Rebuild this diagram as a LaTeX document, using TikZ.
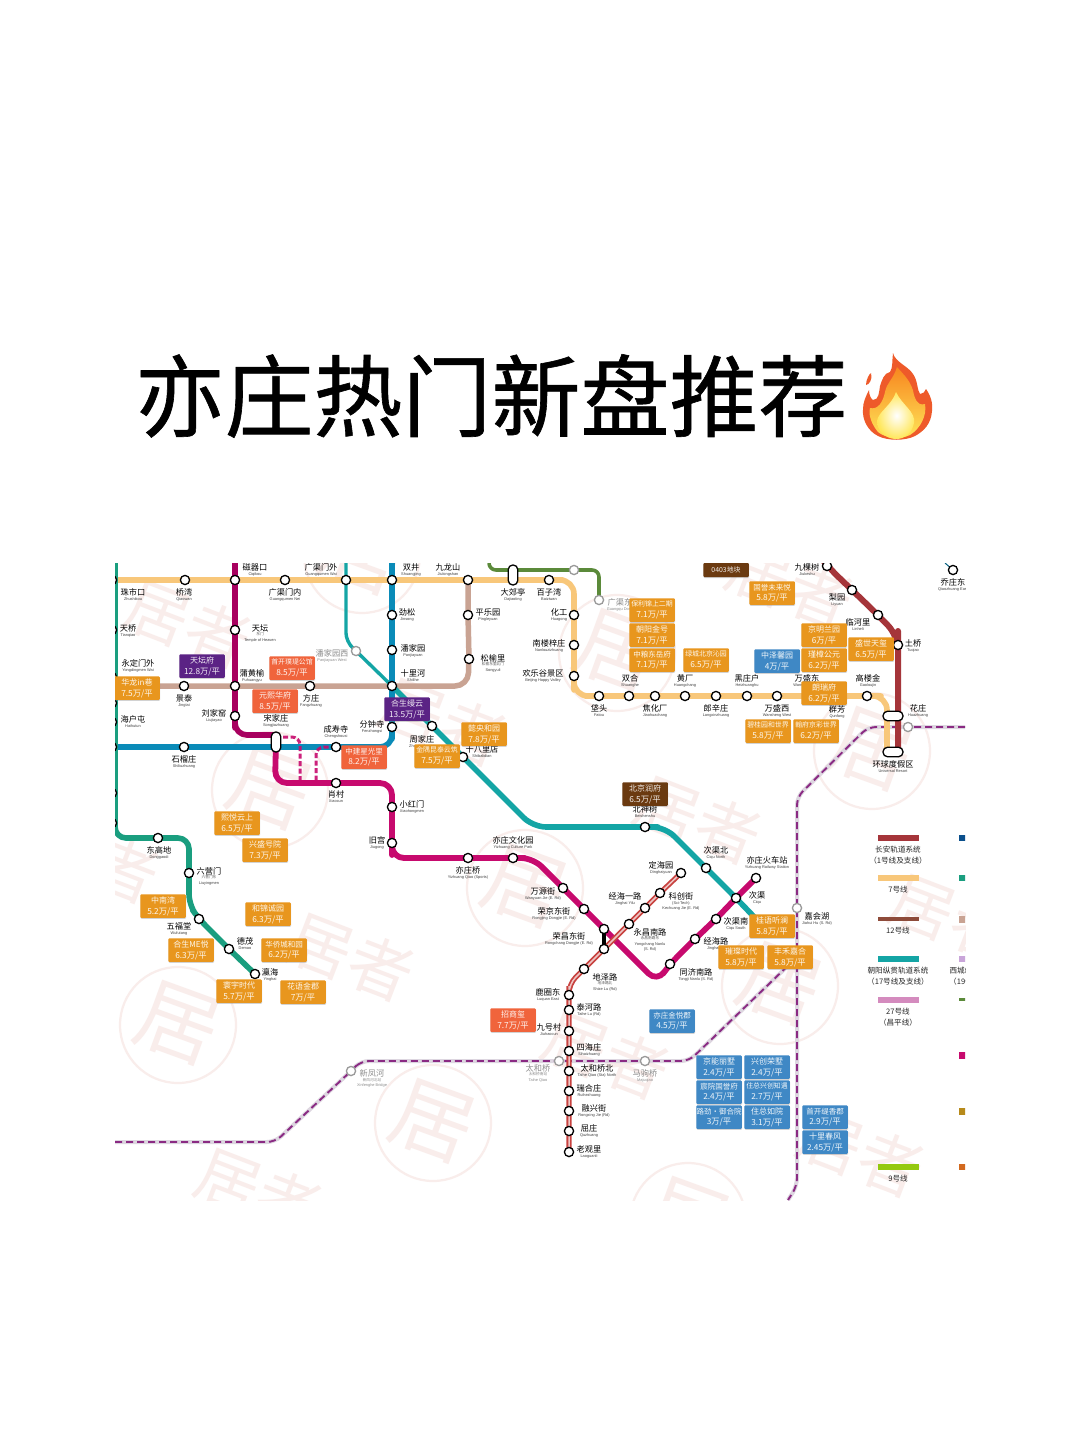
\documentclass[tikz,border=0pt]{standalone}
\usepackage{fontspec}
\usetikzlibrary{shadows}
\setmainfont{Noto Sans CJK SC}
\newfontfamily\latinf{Liberation Sans}
\newfontfamily\ttlfont[FakeBold=0.7]{Noto Sans CJK SC}
\pgfdeclarelayer{wm}
\pgfdeclarelayer{lines}
\pgfsetlayers{wm,lines,main}
\definecolor{cOrange}{HTML}{E8961E}
\definecolor{cRed}{HTML}{F0643C}
\definecolor{cPurple}{HTML}{5B2385}
\definecolor{cBlue}{HTML}{3F88C5}
\definecolor{cBrown}{HTML}{6B3A10}
\definecolor{lSeven}{HTML}{F8C77A}
\definecolor{lOne}{HTML}{A5353A}
\definecolor{lFive}{HTML}{A8005F}
\definecolor{lTen}{HTML}{0A8BB8}
\definecolor{lFourteen}{HTML}{C9A393}
\definecolor{lSeventeen}{HTML}{14A5A5}
\definecolor{lEight}{HTML}{1A9E7F}
\definecolor{lYi}{HTML}{C70A6E}
\definecolor{lTOne}{HTML}{C8423F}
\definecolor{lGreen}{HTML}{5B8A3A}
\definecolor{lDash}{HTML}{8A2A83}
\definecolor{lDashB}{HTML}{DDD6E0}
\definecolor{wmark}{HTML}{F9EDEB}
\definecolor{fRed}{HTML}{EE5A2A}
\definecolor{fOrange}{HTML}{F7861F}
\definecolor{fAmber}{HTML}{F9B233}
\definecolor{fYellow}{HTML}{FFE75A}
\definecolor{lgBrown}{HTML}{8E4B3A}
\definecolor{lgPink}{HTML}{D48BBE}
\definecolor{lgLime}{HTML}{94C90F}
\definecolor{lgNavy}{HTML}{0A4F8C}
\definecolor{lgLav}{HTML}{C9A5D9}
\definecolor{lgGold}{HTML}{B78A1A}
\definecolor{lgRust}{HTML}{D2691E}
\tikzset{
  stn/.style={circle,draw=black,line width=1.3,fill=white,inner sep=0,minimum size=9.2},
  gstn/.style={circle,draw=black!40,line width=1.3,fill=white,inner sep=0,minimum size=9.2},
  capV/.style={rectangle,rounded corners=4.5,draw=black,line width=1.3,fill=white,inner sep=0,minimum width=9.5,minimum height=20},
  capH/.style={rectangle,rounded corners=4.5,draw=black,line width=1.3,fill=white,inner sep=0,minimum width=20,minimum height=9.5},
  zh/.style={inner sep=0,text=black,font=\fontsize{8.2}{9}\selectfont},
  en/.style={inner sep=0,text=black!75,font=\latinf\fontsize{3.9}{4.5}\selectfont},
  ens/.style={inner sep=0,text=black!65,font=\fontsize{3.7}{4.5}\selectfont},
  gzh/.style={inner sep=0,text=black!45,font=\fontsize{8.2}{9}\selectfont},
  gen/.style={inner sep=0,text=black!45,font=\latinf\fontsize{3.9}{4.5}\selectfont},
  gens/.style={inner sep=0,text=black!45,font=\fontsize{3.7}{4.5}\selectfont},
  pbox/.style={rectangle,rounded corners=1,fill=#1,text=white!92!#1,align=center,inner sep=0,minimum width=45.5,minimum height=23.5,
     font=\fontsize{8}{10.8}\selectfont,drop shadow={shadow xshift=0.4pt,shadow yshift=-1pt,opacity=0.35}},
  lgt/.style={inner sep=0,text=black!85,font=\fontsize{7.6}{9}\selectfont},
  metro/.style={line width=#1,line join=round,line cap=butt},
  tone/.style={line width=1.8,draw=lTOne,double=white!70!lTOne,double distance=1.5},
  dashl/.style={draw=lDash,line width=1.9,dash pattern=on 7 off 4,preaction={draw=lDashB,line width=4,solid}},
  linkd/.style={draw=lYi,line width=3,dash pattern=on 5 off 2.5,opacity=0.9},
}
\newcount\labc
\newcommand{\lab}[4]{\global\advance\labc by 1
  \node[zh] (z\the\labc) at (#1,#2) {#3};
  \node[en] (e\the\labc) at (#1,#2+7.2) {#4};}
\newcommand{\labz}[3]{\global\advance\labc by 1
  \node[zh] (z\the\labc) at (#1,#2) {#3};}
\newcommand{\glab}[4]{\global\advance\labc by 1
  \node[gzh] (z\the\labc) at (#1,#2) {#3};
  \node[gen] (e\the\labc) at (#1,#2+7.2) {#4};}
\newcommand{\glabz}[3]{\global\advance\labc by 1
  \node[gzh] (z\the\labc) at (#1,#2) {#3};}
\newcommand{\tx}[4][en]{\global\advance\labc by 1
  \node[#1] (x\the\labc) at (#2,#3) {#4};}
\newcommand{\price}[5]{\global\advance\labc by 1
  \node[pbox=#3] (p\the\labc) at (#1,#2) {#4\\{\fontsize{8.3}{10.8}\selectfont #5}};}
\newcommand{\sm}{\fontsize{6.9}{10.8}\selectfont}
\newcommand{\md}{\fontsize{7.5}{10.8}\selectfont}
\newcommand{\st}[3]{\node[stn] (#1) at (#2,#3) {};}
\newcommand{\gs}[3]{\node[gstn] (#1) at (#2,#3) {};}
\newcommand{\stamp}[2]{%
  \draw[wmark,line width=2.2] (#1,#2) circle (58);
  \node[rotate=-20,inner sep=0,text=wmark,font=\fontsize{82}{82}\selectfont] at (#1,#2-2) {居};}
\newcommand{\wmtext}[2]{\node[rotate=-21,inner sep=0,text=wmark,font=\fontsize{64}{64}\selectfont] at (#1,#2) {居者};}
\newcommand{\mapclip}{\clip (115,563) rectangle (965,1200);}
\begin{document}
\begin{tikzpicture}[x=1pt,y=-1pt]
\useasboundingbox (0,0) rectangle (1080,1439);
\begin{pgfonlayer}{wm}
\fill[white] (0,0) rectangle (1080,1439);
\end{pgfonlayer}
% title
\node[inner sep=0,text=black,font=\ttlfont\fontsize{89}{90}\selectfont] (title) at (491.5,396) {亦庄热门新盘推荐};
% flame
\fill[fRed] (893,353) .. controls (895,362) and (908,366) .. (913,374)
  .. controls (918,381) and (917,390) .. (920,394) .. controls (923,394) and (925,392) .. (926,389)
  .. controls (931,396) and (933,404) .. (932,411) .. controls (931,424) and (924,431) .. (915,436)
  .. controls (905,441) and (888,441) .. (878,436) .. controls (868,431) and (862,420) .. (863,409)
  .. controls (863,402) and (866,396) .. (869,390) .. controls (869,395) and (871,399) .. (873,400)
  .. controls (879,400) and (879,392) .. (880,386) .. controls (882,380) and (884,373) .. (890,372)
  .. controls (893,368) and (892,360) .. (893,353) -- cycle;
\fill[fRed] (871,373) .. controls (869,374) and (866,380) .. (866,385) .. controls (869,385) and (873,379) .. (871,373) -- cycle;
\shade[top color=fOrange,bottom color=fYellow] (897,367) .. controls (904,375) and (912,382) .. (914,395)
  .. controls (917,405) and (921,405) .. (925,404) .. controls (927,415) and (921,428) .. (910,435)
  .. controls (900,440) and (885,438) .. (878,432) .. controls (872,425) and (868,415) .. (870,408)
  .. controls (878,410) and (883,402) .. (885,392) .. controls (887,382) and (893,380) .. (897,367) -- cycle;
\shade[inner color=white,outer color=fYellow] (896,392) .. controls (902,405) and (916,412) .. (914,423)
  .. controls (912,433) and (905,439) .. (896,439) .. controls (886,439) and (877,431) .. (877,421)
  .. controls (878,412) and (892,405) .. (896,392) -- cycle;
% station nodes (main layer, clipped)
\begin{scope}
\mapclip
% Line 8 half circles on left edge
\st{lA}{112}{580}\st{lB}{112}{630}\st{lC}{112}{677}\st{lD}{112}{703}\st{lE}{112}{722}\st{lF}{112}{747}\st{lG}{112}{793}\st{lH}{112}{823}
% Line 7
\st{qiaowan}{185}{580}\st{ciqikou}{235}{580}\st{gqmn}{285}{580}\st{gqmw}{346}{580}\st{shuangjing}{392}{580}\st{jiulongshan}{468}{580}
\node[capV] (dajiaoting) at (513,575) {};
\st{baiziwan}{549}{580}\st{huagong}{574}{615}\st{nanlou}{574}{645}\st{huanle}{574}{676}
\st{fatou}{599}{696}\st{shuanghe}{629}{696}\st{jiaohua}{655}{696}\st{huangchang}{685}{696}\st{langxin}{716}{696}\st{heizhuang}{747}{696}\st{wsxi}{777}{696}\st{wsdong}{808}{696}\st{qunfang}{837}{696}\st{gaolou}{867}{696}
\node[capH] (huazhuang) at (893,716) {};
\node[capH] (huanqiu) at (893,752) {};
% Line 1
\st{jiukeshu}{827}{566}\st{liyuan}{852}{590}\st{linheli}{878}{615}\st{tuqiao}{898}{645}
% Line 5
\st{tiantan}{235}{630}\st{puhuangyu}{235}{686}\st{liujiayao}{235}{716}
\node[capV] (songjia) at (276,742) {};
% Line 10
\st{shiliu}{184}{747}\st{chengshou}{336}{747}\st{fenzhong}{392}{727}\st{shilihe}{392}{686}\st{panjia}{392}{650}\st{jinsong}{392}{615}
% Line 14
\st{jingtai}{184}{686}\st{fangzhuang}{310}{686}\st{pingle}{468}{615}\st{songyu}{469}{659}
% Line 17
\gs{pjyxi}{356}{651}\st{zhoujia}{432}{726}\st{shiba}{463}{757}\st{beishen}{645}{827}\st{cqbei}{706}{868}\st{ciqu}{736}{898}
% Line 8 lower
\st{donggao}{158}{838}\st{liuying}{189}{873}\st{wufu}{199}{919}\st{demao}{229}{949}\st{yinghai}{255}{974}
% Yizhuang line
\st{xiaocun}{336}{783}\st{xiaohong}{392}{807}\st{jiugong}{392}{843}\st{yzqiao}{468}{858}\st{yzwh}{513}{858}\st{wanyuan}{563}{888}\st{rongjing}{584}{909}\st{rcA}{604}{929}\st{tongji}{670}{964}\st{jinghai}{695}{939}\st{cqnan}{716}{919}\st{yzhcz}{756}{878}
% Yizhuang T1
\st{dinghai}{681}{873}\st{kechuang}{660}{893}\st{jhyl}{645}{908}\st{ycnl}{629}{924}\st{rcB}{604}{949}\st{dize}{584}{969}\st{luquan}{569}{995}\st{taihelu}{569}{1010}\st{jiuhao}{569}{1031}\st{sihai}{569}{1051}\st{thqb}{569}{1071}\st{ruihe}{569}{1091}\st{rongxing}{569}{1111}\st{quzhuang}{569}{1131}\st{laoguan}{569}{1152}
% other grey / far stations
\st{qzdong}{953}{570}
\gs{xfh}{351}{1071}\gs{thq}{559}{1061}\gs{mjq}{645}{1061}\gs{jhh}{797}{908}\gs{hzgray}{908}{727}\gs{grayA}{574}{570}\gs{grayB}{599}{600}
% bends
\coordinate (b8a) at (115,563);\coordinate (b8b) at (115,838);\coordinate (b8c) at (189,838);\coordinate (b8d) at (189,905);
\coordinate (w7) at (115,580);\coordinate (c7a) at (574,580);\coordinate (c7b) at (574,696);\coordinate (c7c) at (887,696);\coordinate (c7d) at (887,752);
\coordinate (t1) at (825,563);\coordinate (c1a) at (898,636);\coordinate (c1b) at (898,752);
\coordinate (t5) at (235,563);\coordinate (c5a) at (235,735);
\coordinate (w10) at (115,747);\coordinate (c10a) at (392,747);\coordinate (t10) at (392,563);
\coordinate (w14) at (115,686);\coordinate (c14a) at (468,686);
\coordinate (t17) at (346,563);\coordinate (c17a) at (346,641);
\coordinate (c17b) at (533,827);\coordinate (c17c) at (665,827);\coordinate (end17) at (758,921);
\coordinate (cyia) at (275,783);\coordinate (cyib) at (392,783);\coordinate (cyic) at (392,858);\coordinate (cyid) at (533,858);\coordinate (cyie) at (657,982);
\coordinate (ct1a) at (569,984);
\coordinate (g1) at (489,563);\coordinate (g2) at (489,570);\coordinate (g3) at (599,570);
\coordinate (dw) at (115,1142);\coordinate (d1) at (275,1142);\coordinate (d2) at (361,1061);\coordinate (d3) at (689,1061);\coordinate (d4) at (797,957);
\coordinate (dv) at (797,797);\coordinate (dm) at (868,727);\coordinate (de) at (965,727);\coordinate (dvb) at (797,1186);\coordinate (dvc) at (788,1200);
\coordinate (ql) at (945,563);
\coordinate (ld1a) at (283,737);\coordinate (ld1b) at (300,737);\coordinate (ld1c) at (300,783);
\coordinate (ld2a) at (316,747);\coordinate (ld2b) at (316,783);
% station labels
\lab{133}{592}{珠市口}{Zhushikou}
\lab{184}{592}{桥湾}{Qiaowan}
\lab{255}{567}{磁器口}{Ciqikou}
\lab{285}{592}{广渠门内}{Guangqumen Nei}
\lab{321}{567}{广渠门外}{Guangqumen Wai}
\lab{411}{567}{双井}{Shuangjing}
\lab{448}{567}{九龙山}{Jiulongshan}
\lab{513}{592}{大郊亭}{Dajiaoting}
\lab{549}{592}{百子湾}{Baiziwan}
\lab{407}{612}{劲松}{Jinsong}
\lab{488}{612}{平乐园}{Pingleyuan}
\lab{413}{648}{潘家园}{Panjiayuan}
\lab{413}{673}{十里河}{Shilihe}
\labz{493}{658}{松榆里}
\tx[ens]{493}{664}{松榆东里北门}
\tx{493}{670}{Songyuli}
\lab{559}{612}{化工}{Huagong}
\lab{549}{643}{南楼梓庄}{Nanlouzizhuang}
\lab{543}{673}{欢乐谷景区}{Beijing Happy Valley}
\lab{599}{708}{垡头}{Fatou}
\lab{630}{678}{双合}{Shuanghe}
\lab{655}{708}{焦化厂}{Jiaohuachang}
\lab{685}{678}{黄厂}{Huangchang}
\lab{716}{708}{郎辛庄}{Langxinzhuang}
\lab{747}{678}{黑庄户}{Heizhuanghu}
\lab{777}{708}{万盛西}{Wansheng West}
\lab{807}{678}{万盛东}{Wansheng East}
\lab{837}{709}{群芳}{Qunfang}
\lab{868}{678}{高楼金}{Gaoloujin}
\lab{807}{567}{九棵树}{Jiukeshu}
\lab{837}{597}{梨园}{Liyuan}
\lab{858}{622}{临河里}{Linheli}
\lab{913}{643}{土桥}{Tuqiao}
\lab{918}{708}{花庄}{Huazhuang}
\lab{893}{764}{环球度假区}{Universal Resort}
\lab{953}{582}{乔庄东}{Qiaozhuang East}
\glab{620}{602}{广渠东}{Guangqu Dong}
\glab{332}{653}{潘家园西}{Panjiayuan West}
\lab{128}{628}{天桥}{Tianqiao}
\lab{138}{663}{永定门外}{Yongdingmen Wai}
\lab{133}{719}{海户屯}{Haihutun}
\labz{260}{628}{天坛}
\tx[ens]{260}{634}{东门}
\tx{260}{640}{Temple of Heaven}
\lab{252}{673}{蒲黄榆}{Puhuangyu}
\lab{184}{698}{景泰}{Jingtai}
\lab{311}{698}{方庄}{Fangzhuang}
\lab{214}{713}{刘家窑}{Liujiayao}
\lab{276}{718}{宋家庄}{Songjiazhuang}
\lab{336}{729}{成寿寺}{Chengshousi}
\lab{372}{724}{分钟寺}{Fenzhongsi}
\lab{184}{759}{石榴庄}{Shiliuzhuang}
\lab{422}{739}{周家庄}{Zhoujiazhuang}
\lab{482}{749}{十八里店}{Shibalidian}
\lab{336}{794}{肖村}{Xiaocun}
\lab{412}{804}{小红门}{Xiaohongmen}
\lab{377}{840}{旧宫}{Jiugong}
\lab{159}{850}{东高地}{Donggaodi}
\labz{209}{871}{六营门}
\tx[ens]{209}{877}{六营门东}
\tx{209}{883}{Liuyingmen}
\lab{179}{926}{五福堂}{Wufutang}
\lab{245}{941}{德茂}{Demao}
\lab{270}{972}{瀛海}{Yinghai}
\lab{468}{870}{亦庄桥}{Yizhuang Qiao (Sports)}
\lab{513}{840}{亦庄文化园}{Yizhuang Culture Park}
\lab{543}{891}{万源街}{Wanyuan Jie (E. Rd)}
\lab{554}{911}{荣京东街}{Rongjing Dongjie (E. Rd)}
\lab{569}{936}{荣昌东街}{Rongchang Dongjie (E. Rd)}
\lab{661}{865}{定海园}{Dinghaiyuan}
\lab{625}{896}{经海一路}{Jinghai Yilu}
\labz{681}{896}{科创街}
\tx{681}{903}{(Sci-Tech)}
\tx{681}{908}{Kechuang Jie (E. Rd)}
\labz{650}{932}{永昌南路}
\tx[ens]{650}{938}{永昌南路东}
\tx{650}{944}{Yongchang Nanlu}
\tx{650}{949}{(S. Rd)}
\labz{605}{977}{地泽路}
\tx[ens]{605}{983}{地泽路北}
\tx{605}{989}{Shize Lu (Rd)}
\lab{548}{992}{鹿圈东}{Luquan East}
\lab{589}{1007}{泰河路}{Taihe Lu (Rd)}
\lab{549}{1027}{九号村}{Jiuhaocun}
\lab{589}{1047}{四海庄}{Sihaizhuang}
\lab{597}{1068}{太和桥北}{Taihe Qiao (Sta) North}
\lab{589}{1088}{瑞合庄}{Ruihezhuang}
\lab{594}{1108}{融兴街}{Rongxing Jie (Rd)}
\lab{589}{1128}{屈庄}{Quzhuang}
\lab{589}{1149}{老观里}{Laoguanli}
\glabz{538}{1068}{太和桥}
\tx[gens]{538}{1074}{太和桥南站}
\tx[gen]{538}{1080}{Taihe Qiao}
\glabz{372}{1073}{新凤河}
\tx[gens]{372}{1080}{新凤河北站}
\tx[gen]{372}{1085}{Xinfenghe Bridge}
\glab{645}{1073}{马驹桥}{Majuqiao}
\lab{696}{972}{同济南路}{Tongji Nanlu (S. Rd)}
\lab{716}{941}{经海路}{Jinghai Lu}
\lab{736}{921}{次渠南}{Ciqu South}
\lab{757}{895}{次渠}{Ciqu}
\lab{716}{850}{次渠北}{Ciqu North}
\lab{767}{860}{亦庄火车站}{Yizhuang Railway Station}
\lab{817}{916}{嘉会湖}{Jiahui Hu (S. Rd)}
\lab{645}{809}{北神树}{Beishenshu}
% price boxes
\price{137}{688}{cOrange}{华龙in巷}{7.5万/平}
\price{202}{666}{cPurple}{天坛府}{12.8万/平}
\price{292}{668}{cRed}{\sm 首开璞瑅公馆}{8.5万/平}
\price{275}{701}{cRed}{元熙华府}{8.5万/平}
\price{364}{757}{cRed}{\md 中建星光里}{8.2万/平}
\price{407}{709}{cPurple}{合生缦云}{13.5万/平}
\price{484}{734}{cOrange}{懿央和园}{7.8万/平}
\price{437}{756}{cOrange}{\sm 金隅昆泰云筑}{7.5万/平}
\price{652}{610}{cOrange}{\sm 保利锦上二期}{7.1万/平}
\price{652}{635}{cOrange}{朝阳金号}{7.1万/平}
\price{652}{660}{cOrange}{\md 中粮东岳府}{7.1万/平}
\price{706}{660}{cOrange}{\sm 绿城北京沁园}{6.5万/平}
\price{772}{593}{cOrange}{\md 国誉未来悦}{5.8万/平}
\node[pbox=cBrown,minimum height=14] (land) at (726,570) {\sm 0403地块};
\price{824}{635}{cOrange}{京明兰园}{6万/平}
\price{777}{661}{cBlue}{中泽馨园}{4万/平}
\price{824}{660}{cOrange}{瑾樟公元}{6.2万/平}
\price{871}{649}{cOrange}{盛世天玺}{6.5万/平}
\price{824}{693}{cOrange}{朗瑞府}{6.2万/平}
\price{768}{731}{cOrange}{\sm 碧桂园和世界}{5.8万/平}
\price{816}{731}{cOrange}{\sm 翰府京彩世界}{6.2万/平}
\price{645}{794}{cBrown}{北京润府}{6.5万/平}
\price{237}{823}{cOrange}{熙悦云上}{6.5万/平}
\price{265}{850}{cOrange}{兴盛号院}{7.3万/平}
\price{163}{906}{cOrange}{中南湾}{5.2万/平}
\price{268}{914}{cOrange}{和锦诚园}{6.3万/平}
\price{191}{950}{cOrange}{合生ME悦}{6.3万/平}
\price{284}{950}{cOrange}{\md 华侨城和园}{6.2万/平}
\price{239}{991}{cOrange}{寰宇时代}{5.7万/平}
\price{303}{992}{cOrange}{花语金郡}{7万/平}
\price{772}{926}{cOrange}{桂语听澜}{5.8万/平}
\price{741}{957}{cOrange}{璀璨时代}{5.8万/平}
\price{790}{957}{cOrange}{丰禾嘉合}{5.8万/平}
\price{513}{1020}{cRed}{招商玺}{7.7万/平}
\price{672}{1021}{cBlue}{\md 亦庄金悦郡}{4.5万/平}
\price{719}{1067}{cBlue}{京能丽墅}{2.4万/平}
\price{767}{1067}{cBlue}{兴创荣墅}{2.4万/平}
\price{719}{1092}{cBlue}{\md 宸院国誉府}{2.4万/平}
\price{767}{1092}{cBlue}{\sm 住总兴创知遇}{2.7万/平}
\price{719}{1117}{cBlue}{\md 路劲·御合院}{3万/平}
\price{767}{1117}{cBlue}{住总如院}{3.1万/平}
\price{825}{1117}{cBlue}{\md 首开缇香郡}{2.9万/平}
\price{825}{1142}{cBlue}{十里春风}{2.45万/平}
% legend
\fill[lOne] (878,835) rectangle (919,841);
\fill[lSeven] (878,875) rectangle (919,881);
\fill[lgBrown] (878,917) rectangle (919,921);
\fill[lSeventeen] (878,956) rectangle (919,962);
\fill[lgPink] (878,997) rectangle (919,1003);
\fill[lgLime] (878,1164) rectangle (919,1170);
\fill[lgNavy] (959,835) rectangle (980,841);
\fill[lEight] (959,875) rectangle (980,881);
\fill[lFourteen] (959,916) rectangle (980,923);
\fill[lgLav] (959,956) rectangle (980,962);
\fill[lGreen] (959,998) rectangle (980,1001);
\fill[lYi] (959,1052) rectangle (980,1059);
\fill[lgGold] (959,1108) rectangle (980,1115);
\fill[lgRust] (959,1164) rectangle (980,1170);
\tx[lgt]{898}{850}{长安轨道系统}
\tx[lgt]{898}{861}{（1号线及支线）}
\tx[lgt]{898}{890}{7号线}
\tx[lgt]{898}{931}{12号线}
\tx[lgt]{898}{971}{朝阳纵贯轨道系统}
\tx[lgt]{898}{982}{（17号线及支线）}
\tx[lgt]{898}{1012}{27号线}
\tx[lgt]{898}{1023}{（昌平线）}
\tx[lgt]{898}{1179}{9号线}
\tx[lgt]{980}{971}{西城纵贯轨道系统}
\tx[lgt]{980}{982}{（19号线及支线）}
\tx[lgt]{980}{1179}{25号线}
\tx[lgt]{980}{1190}{（房山线）}
\end{scope}
% watermark layer
\begin{pgfonlayer}{wm}
\begin{scope}
\mapclip
\stamp{178}{1025}\stamp{433}{1123}\stamp{525}{888}\stamp{270}{790}\stamp{617}{653}\stamp{780}{986}\stamp{872}{751}\stamp{688}{1221}\stamp{362}{555}\stamp{86}{1260}
\wmtext{351}{957}\wmtext{698}{820}\wmtext{443}{722}\wmtext{790}{585}\wmtext{606}{1055}\wmtext{953}{918}\wmtext{861}{1153}\wmtext{259}{1192}\wmtext{188}{624}\wmtext{96}{859}
\end{scope}
\end{pgfonlayer}
% connector layer
\begin{pgfonlayer}{lines}
\begin{scope}
\mapclip
% dashed outer line
\draw[dashl,rounded corners=8] (dw) -- (d1) -- (xfh.center) -- (d2) -- (thq.center) -- (mjq.center) -- (d3) -- (d4);
\draw[dashl,rounded corners=8] (de) -- (hzgray.center) -- (dm) -- (dv) -- (jhh.center) -- (dvb) -- (dvc);
% top green
\draw[metro=3.6,draw=lGreen,rounded corners=7] (g1) -- (g2) -- (dajiaoting.center |- g2) -- (grayA.center) -- (g3) -- (grayB.center);
% 14
\draw[metro=5.5,draw=lFourteen,rounded corners=13] (w14) -- (jingtai.center) -- (puhuangyu.center) -- (fangzhuang.center) -- (shilihe.center) -- (c14a) -- (songyu.center) -- (pingle.center) -- (jiulongshan.center);
% 17 thin + thick
\draw[metro=3.4,draw=lSeventeen,rounded corners=8] (t17) -- (gqmw.center) -- (c17a) -- (pjyxi.center) -- (shilihe.center);
\draw[metro=5.6,draw=lSeventeen,rounded corners=13] (shilihe.center) -- (zhoujia.center) -- (shiba.center) -- (c17b) -- (beishen.center) -- (c17c) -- (cqbei.center) -- (ciqu.center) -- (end17);
% 10
\draw[metro=5.6,draw=lTen,rounded corners=12] (w10) -- (shiliu.center) -- (songjia.center |- w10) -- (chengshou.center) -- (c10a) -- (fenzhong.center) -- (shilihe.center) -- (panjia.center) -- (jinsong.center) -- (shuangjing.center) -- (t10);
% 7
\draw[metro=5.6,draw=lSeven,rounded corners=14] (w7) -- (jiulongshan.center) -- (baiziwan.center) -- (c7a) -- (huagong.center) -- (nanlou.center) -- (huanle.center) -- (c7b) -- (fatou.center) -- (gaolou.center) -- (c7c) -- (c7d);
% 5
\draw[metro=5.6,draw=lFive,rounded corners=12] (t5) -- (ciqikou.center) -- (tiantan.center) -- (puhuangyu.center) -- (liujiayao.center) -- (c5a) -- (songjia.center |- c5a);
% 8
\draw[metro=5.6,draw=lEight,rounded corners=11] (b8a) -- (b8b) -- (donggao.center) -- (b8c) -- (liuying.center) -- (b8d) -- (wufu.center) -- (demao.center) -- (yinghai.center);
% yizhuang dashes
\draw[linkd,rounded corners=8] (ld1a) -- (ld1b) -- (ld1c);
\draw[linkd,rounded corners=8] (chengshou.center) -- (ld2a) -- (ld2b);
% yizhuang line
\draw[metro=5.8,draw=lYi,rounded corners=12] (songjia.center) -- (cyia) -- (xiaocun.center) -- (cyib) -- (xiaohong.center) -- (jiugong.center) -- (cyic) -- (yzqiao.center) -- (yzwh.center) -- (cyid) -- (wanyuan.center) -- (rongjing.center) -- (rcA.center) -- (cyie) -- (tongji.center) -- (jinghai.center) -- (cqnan.center) -- (ciqu.center) -- (yzhcz.center);
% T1
\draw[tone,rounded corners=9] (dinghai.center) -- (kechuang.center) -- (jhyl.center) -- (ycnl.center) -- (rcB.center) -- (dize.center) -- (ct1a) -- (luquan.center) -- (laoguan.center);
\draw[metro=4.5,draw=black] (rcA.center) -- (rcB.center);
% line 1
\draw[metro=6,draw=lOne,rounded corners=14] (t1) -- (jiukeshu.center) -- (liyuan.center) -- (linheli.center) -- (c1a) -- (tuqiao.center) -- (c1b);
\draw[metro=1,draw=lTen!70!black] (ql) -- (qzdong.center);
\end{scope}
\end{pgfonlayer}
\end{tikzpicture}
\end{document}
